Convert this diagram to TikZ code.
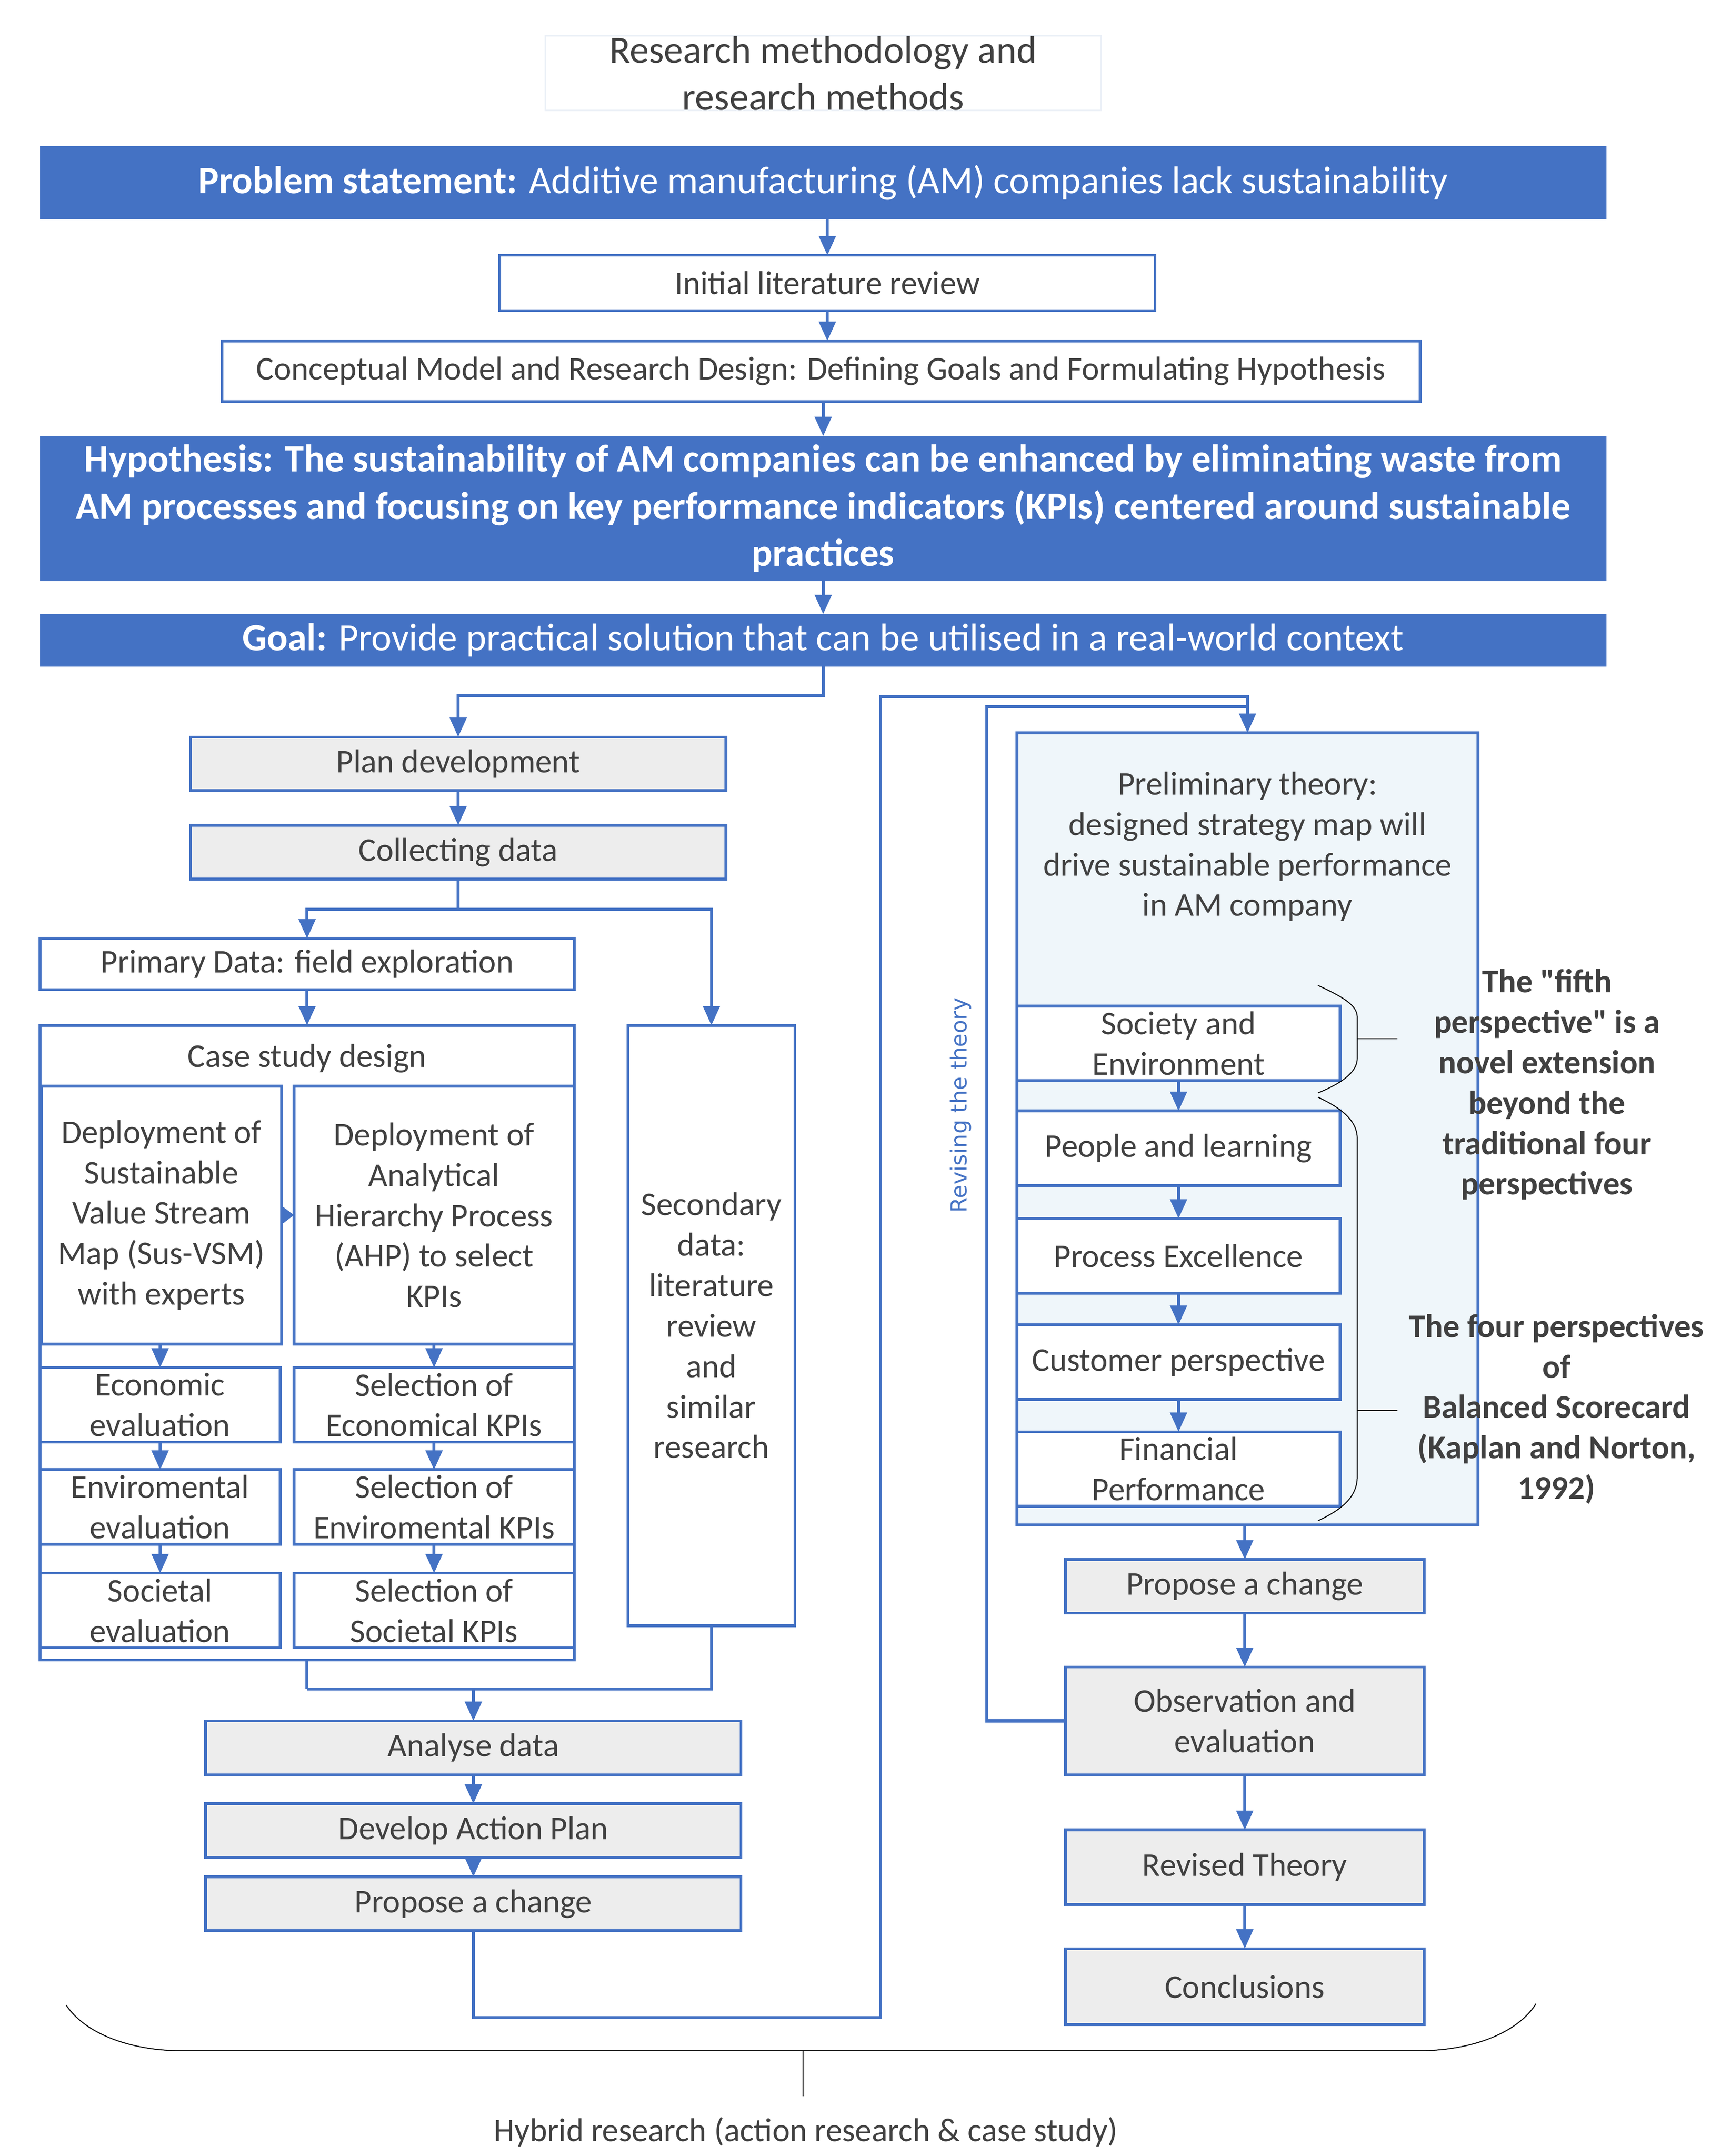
\documentclass[tikz,border=0pt]{standalone}
\usepackage{fontspec}
\setmainfont{Carlito}
\newfontfamily\notefont[Ligatures=TeXOff]{Carlito}
\newfontfamily\dejavu{DejaVu Sans}
\usetikzlibrary{arrows.meta,calc}
\definecolor{bl}{HTML}{4472C4}
\definecolor{tx}{HTML}{404040}
\definecolor{gr}{HTML}{EDEDED}
\definecolor{lb}{HTML}{EFF6FA}
\definecolor{tb}{HTML}{EBF0F7}
\begin{document}
\begin{tikzpicture}[x=1pt,y=-1pt,
  every node/.style={inner sep=0pt, outer sep=0pt, text=tx, font=\fontsize{24}{29.3}\selectfont, align=center},
  sz/.style 2 args={minimum width=#1pt, minimum height=#2pt},
  wbox/.style={draw=bl, line width=2pt, fill=white},
  gbox/.style={draw=bl, line width=2pt, fill=gr},
  bbox/.style={fill=bl, text=white, font=\fontsize{28}{34.2}\selectfont},
  conn/.style={draw=bl, line width=2.2pt},
  arr/.style={conn, -{Triangle[length=14pt,width=12pt]}},
  bracel/.style={draw=black, line width=0.7pt},
  note/.style={font=\notefont\bfseries\fontsize{24}{29.3}\selectfont},
]
\useasboundingbox (0,0) rectangle (1254,1562.3);

% top part
\node[draw=tb, line width=1pt, fill=white, sz={403}{54}, font=\fontsize{28}{34.2}\selectfont] (title) at (596.5,53) {Research methodology and\\research methods};
\node[bbox, sz={1135}{53}] (prob) at (596.5,132.5) {\textbf{Problem statement:} Additive manufacturing (AM) companies lack sustainability};
\node[wbox, sz={475}{40}] (lit) at (599.5,205) {Initial literature review};
\node[wbox, sz={868}{44}] (concept) at (595,269) {Conceptual Model and Research Design: Defining Goals and Formulating Hypothesis};
\node[bbox, sz={1135}{105}, font=\bfseries\fontsize{28}{34.2}\selectfont] (hyp) at (596.5,368.5) {Hypothesis: The sustainability of AM companies can be enhanced by eliminating waste from\\AM processes and focusing on key performance indicators (KPIs) centered around sustainable\\practices};
\node[bbox, sz={1135}{38}] (goal) at (596.5,464) {\textbf{Goal:} Provide practical solution that can be utilised in a real-world context};

% left column
\node[gbox, sz={388}{39}] (plan) at (332,553.5) {Plan development};
\node[gbox, sz={388}{39}] (collect) at (332,617.5) {Collecting data};
\node[wbox, sz={387}{37}] (primary) at (222.5,698.5) {Primary Data: field exploration};
\node[wbox, sz={387}{460}] (case) at (222.5,973) {};
\node (casehdr) at (222.5,767) {Case study design};
\node[wbox, sz={174}{187}] (sus) at (117,880.5) {Deployment of\\Sustainable\\Value Stream\\Map (Sus-VSM)\\with experts};
\node[wbox, sz={203}{187}] (ahp) at (314.5,880.5) {Deployment of\\Analytical\\Hierarchy Process\\(AHP) to select\\KPIs};
\node[wbox, sz={174}{54}] (econ) at (116,1018) {Economic\\evaluation};
\node[wbox, sz={203}{54}] (selecon) at (314.5,1018) {Selection of\\Economical KPIs};
\node[wbox, sz={174}{54}] (env) at (116,1092) {Enviromental\\evaluation};
\node[wbox, sz={203}{54}] (selenv) at (314.5,1092) {Selection of\\Enviromental KPIs};
\node[wbox, sz={174}{54}] (soc) at (116,1167) {Societal\\evaluation};
\node[wbox, sz={203}{54}] (selsoc) at (314.5,1167) {Selection of\\Societal KPIs};
\node[wbox, sz={121}{435}] (sec) at (515.5,960.5) {Secondary\\data:\\literature\\review\\and\\similar\\research};
\node[gbox, sz={388}{39}] (analyse) at (343,1266.5) {Analyse data};
\node[gbox, sz={388}{39}] (develop) at (343,1326.5) {Develop Action Plan};
\node[gbox, sz={388}{39}] (proposeL) at (343,1379.5) {Propose a change};

% right column
\node[draw=bl, line width=2pt, fill=lb, sz={334}{574}] (prelim) at (904,818) {};
\node (prelimtxt) at (904,613.5) {Preliminary theory:\\designed strategy map will\\drive sustainable performance\\in AM company};
\node[wbox, sz={234}{54}] (soe) at (854,756) {Society and\\Environment};
\node[wbox, sz={234}{54}] (ppl) at (854,832) {People and learning};
\node[wbox, sz={234}{54}] (proc) at (854,910) {Process Excellence};
\node[wbox, sz={234}{54}] (cust) at (854,987) {Customer perspective};
\node[wbox, sz={234}{54}] (fin) at (854,1064.5) {Financial\\Performance};
\node[gbox, sz={260}{39}] (proposeR) at (902,1149.5) {Propose a change};
\node[gbox, sz={260}{78}] (obs) at (902,1247) {Observation and\\evaluation};
\node[gbox, sz={260}{54}] (revised) at (902,1353) {Revised Theory};
\node[gbox, sz={260}{55}] (concl) at (902,1439.5) {Conclusions};

% connectors top
\draw[arr] (prob.south -| lit.north) -- (lit.north);
\draw[arr] (lit.south) -- (lit.south |- concept.north);
\draw[arr] (hyp.north |- concept.south) -- (hyp.north);
\draw[arr] (hyp.south) -- (goal.north);
\draw[arr] (goal.south) -- ++(0,21) -| (plan.north);
\draw[arr] (plan.south) -- (collect.north);
\draw[conn] (collect.south) -- ++(0,22) coordinate (c1);
\draw[arr] (c1) -| (primary.north);
\draw[arr] (c1) -| (sec.north);
\draw[arr] (primary.south) -- (case.north);
\draw[arr, -{Triangle[length=9pt,width=13pt]}] (sus.east) -- (ahp.west);
\draw[arr] (econ.north |- sus.south) -- (econ.north);
\draw[arr] (selecon.north |- ahp.south) -- (selecon.north);
\draw[arr] (econ.south) -- (env.north);
\draw[arr] (selecon.south) -- (selenv.north);
\draw[arr] (env.south) -- (soc.north);
\draw[arr] (selenv.south) -- (selsoc.north);
\draw[conn] (case.south) -- ++(0,21) coordinate (j1);
\draw[conn] (sec.south) |- (j1);
\draw[arr] (analyse.north |- j1) -- (analyse.north);
\draw[arr] (analyse.south) -- (develop.north);
\draw[arr] (develop.south) -- (proposeL.north);
\coordinate (b1) at (638,1462);
\coordinate (t1) at (904,505);
\coordinate (t2) at (715,512);
\draw[arr] (proposeL.south) |- (b1) |- (t1) -- (prelim.north);
\draw[conn] (obs.west) -| (t2) -- (t2 -| prelim.north);

% right connectors
\draw[arr] (soe.south) -- (ppl.north);
\draw[arr] (ppl.south) -- (proc.north);
\draw[arr] (proc.south) -- (cust.north);
\draw[arr] (cust.south) -- (fin.north);
\draw[arr] (proposeR.north |- prelim.south) -- (proposeR.north);
\draw[arr] (proposeR.south) -- (obs.north);
\draw[arr] (obs.south) -- (revised.north);
\draw[arr] (revised.south) -- (concl.north);

\node[rotate=90, text=bl, font=\dejavu\fontsize{16}{19}\selectfont] (rev) at (696,801) {Revising the theory};

% braces
\draw[bracel] (955,714) .. controls (972,722) and (983.5,728) .. (983.5,737) -- (983.5,767) .. controls (983.5,777) and (972,785) .. (955,792);
\draw[bracel] (983.5,752.6) -- (1012.6,752.6);
\draw[bracel] (955,795) .. controls (972,803) and (983.5,812) .. (983.5,825) -- (983.5,1070) .. controls (983.5,1085) and (972,1094) .. (955,1102);
\draw[bracel] (983.5,1022) -- (1012.6,1022);
\node[note] (fifth) at (1121,786) {The "fifth\\perspective" is a\\novel extension\\beyond the\\traditional four\\perspectives};
\node[note] (four) at (1128,1021) {The four perspectives\\of\\Balanced Scorecard\\(Kaplan and Norton,\\1992)};

% bottom brace
\draw[bracel] (48,1453) .. controls (62,1474) and (95,1486) .. (132,1486) -- (1028,1486) .. controls (1065,1486) and (1099,1474) .. (1113,1452);
\draw[bracel] (582,1486) -- (582,1519);
\node (hybrid) at (584,1545) {Hybrid research (action research \& case study)};
\end{tikzpicture}
\end{document}
